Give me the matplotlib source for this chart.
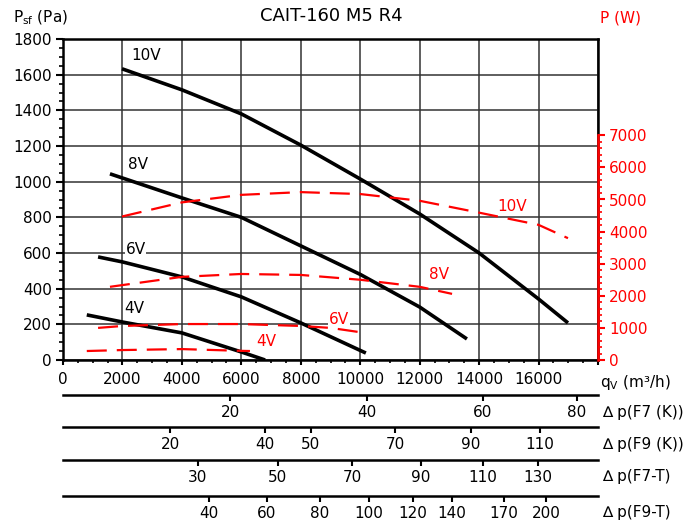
import numpy as np
import matplotlib.pyplot as plt
from matplotlib.ticker import MultipleLocator, FixedLocator

# fan curves, static pressure (Pa) vs airflow (m3/h)
flow_10v = [1985, 4000, 6000, 8000, 10000, 12000, 14000, 16000, 16990]
psf_10v = [1633, 1515, 1380, 1205, 1015, 819, 600, 342, 208]
flow_8v = [1580, 4000, 6000, 8000, 10000, 12000, 13590]
psf_8v = [1044, 909, 800, 640, 480, 297, 118]
flow_6v = [1180, 2000, 4000, 6000, 8000, 10190]
psf_6v = [578, 550, 466, 354, 208, 39]
flow_4v = [800, 2000, 4000, 6000, 6800]
psf_4v = [253, 213, 152, 45, 0]

# power curves (W)
pflow_10v = [1985, 4000, 6000, 8000, 10000, 12000, 14000, 16000, 16990]
pw_10v = [4470, 4910, 5145, 5230, 5170, 4960, 4590, 4210, 3795]
pflow_8v = [1580, 4000, 6000, 8000, 10000, 12000, 13090]
pw_8v = [2280, 2590, 2680, 2650, 2500, 2280, 2060]
pflow_6v = [1180, 2000, 4000, 6000, 8000, 9000, 10190]
pw_6v = [1000, 1060, 1120, 1120, 1060, 1000, 840]
pflow_4v = [800, 2000, 4000, 6000, 6290]
pw_4v = [280, 310, 340, 285, 280]

# filter pressure-drop scales under the chart (airflow where each value sits)
rows = ['\u2206 p(F7 (K))', '\u2206 p(F9 (K))', '\u2206 p(F7-T)', '\u2206 p(F9-T)']
row_vals = [[20, 40, 60, 80],
            [20, 40, 50, 70, 90, 110],
            [30, 50, 70, 90, 110, 130],
            [40, 60, 80, 100, 120, 140, 170, 200]]
row_flows = [[5620, 10230, 14130, 17290],
             [3600, 6800, 8340, 11170, 13730, 16050],
             [4540, 7230, 9720, 12050, 14130, 15980],
             [4910, 6860, 8650, 10300, 11780, 13090, 14840, 16250]]

W, H = 699, 527
fig = plt.figure(figsize=(W / 100, H / 100), dpi=100)
fs = 11

ax = fig.add_axes([63 / W, 1 - 360 / H, 535 / W, 321 / H])
ax.set_xlim(0, 18000)
ax.set_ylim(0, 1800)
ax.set_xticks(range(0, 18001, 2000))
ax.set_xticklabels([str(v) for v in range(0, 16001, 2000)] + [''])
ax.xaxis.set_minor_locator(MultipleLocator(500))
ax.set_yticks(range(0, 1801, 200))
ax.yaxis.set_minor_locator(MultipleLocator(50))
ax.grid(True, which='major', color='#333333', lw=1.1)
ax.tick_params(axis='y', which='major', direction='out', length=5, width=1.5, labelsize=fs, pad=3)
ax.tick_params(axis='y', which='minor', direction='out', length=3, width=1.2)
ax.tick_params(axis='x', which='major', direction='out', length=3.5, width=1.5, labelsize=fs, pad=5)
ax.tick_params(axis='x', which='minor', direction='out', length=2.5, width=1.2)
for s in ax.spines.values():
    s.set_linewidth(1.8)

for fl, p in [(flow_10v, psf_10v), (flow_8v, psf_8v), (flow_6v, psf_6v), (flow_4v, psf_4v)]:
    ax.plot(fl, p, color='black', lw=2.6, solid_capstyle='butt', zorder=5)

lab = dict(fontsize=fs, color='black', zorder=6,
           bbox=dict(facecolor='white', edgecolor='none', pad=0.5))
ax.text(2300, 1680, '10V', **lab)
ax.text(2200, 1070, '8V', **lab)
ax.text(2100, 595, '6V', **lab)
ax.text(2050, 265, '4V', **lab)

ax2 = ax.twinx()
ax2.set_ylim(0, 10000)
ax2.yaxis.set_major_locator(FixedLocator(range(0, 7001, 1000)))
ax2.yaxis.set_minor_locator(FixedLocator(range(0, 7001, 200)))
ax2.tick_params(which='major', direction='out', length=5, width=1.5, colors='red', labelsize=fs, pad=3)
ax2.tick_params(which='minor', direction='out', length=3, width=1.2, colors='red')
ax2.spines['right'].set_bounds(0, 7000)
ax2.spines['right'].set_color('red')
ax2.spines['right'].set_linewidth(1.8)
for s in ['left', 'top', 'bottom']:
    ax2.spines[s].set_visible(False)

for fl, p in [(pflow_10v, pw_10v), (pflow_8v, pw_8v), (pflow_6v, pw_6v), (pflow_4v, pw_4v)]:
    ax2.plot(fl, p, color='red', lw=1.6, dashes=(9, 4.5))

rlab = dict(fontsize=fs, color='red',
            bbox=dict(facecolor='white', edgecolor='none', pad=0.5))
ax2.text(14600, 4650, '10V', **rlab)
ax2.text(12300, 2520, '8V', **rlab)
ax2.text(8950, 1130, '6V', **rlab)
ax2.text(6500, 430, '4V', **rlab)

fig.text(331 / W, 1 - 16 / H, 'CAIT-160 M5 R4', ha='center', va='center', fontsize=13)
fig.text(13 / W, 1 - 18 / H, 'P$_\\mathregular{sf}$ (Pa)', ha='left', va='center', fontsize=fs)
fig.text(600 / W, 1 - 18 / H, 'P (W)', ha='left', va='center', fontsize=fs, color='red')
fig.text(600 / W, 1 - 382 / H, 'q$_\\mathregular{V}$ (m\u00b3/h)', ha='left', va='center', fontsize=fs)

line_y = [395, 427, 460, 496]
lab_y = [412, 445, 477, 513]
for name, vals, fl, ly, ty in zip(rows, row_vals, row_flows, line_y, lab_y):
    b = fig.add_axes([63 / W, 1 - ly / H, 535 / W, 0.0001])
    b.set_xlim(0, 18000)
    b.set_yticks([])
    b.set_xticks(fl)
    b.set_xticklabels([str(v) for v in vals])
    b.tick_params(axis='x', direction='out', length=4, width=1.5, labelsize=fs, pad=3)
    for s in ['top', 'left', 'right']:
        b.spines[s].set_visible(False)
    b.spines['bottom'].set_linewidth(1.8)
    b.patch.set_visible(False)
    fig.text(602 / W, 1 - ty / H, name, ha='left', va='center', fontsize=fs)

fig.savefig('out.png', dpi=100)
